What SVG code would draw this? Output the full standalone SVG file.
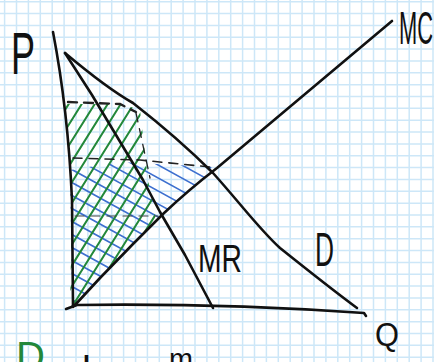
<svg xmlns="http://www.w3.org/2000/svg" width="434" height="362" viewBox="0 0 434 362">
<style>
.grid{stroke:#cde7f8;stroke-width:1.5;fill:none}
.ink{stroke:#111;stroke-width:2.6;fill:none;stroke-linecap:round;stroke-linejoin:round}
.dash{stroke:#222;stroke-width:1.6;fill:none;stroke-dasharray:9 7;stroke-linecap:round}
.green{stroke:#23883a;stroke-width:2;fill:none;stroke-linecap:round}
.blue{stroke:#3d6fcf;stroke-width:1.6;fill:none;stroke-linecap:round}
.lbl{font-family:"Liberation Sans",Arial,sans-serif;fill:#111}
</style>
<defs>
<clipPath id="cg"><polygon points="64,104 122,104 140,110 148,180 156,220 133,244 100,278 76,304 70,308 72,200 66,110"/></clipPath>
<clipPath id="cb"><polygon points="70,170 120,162 212,167 205,177 163,214 133,244 100,278 76,304 72,300"/></clipPath>
</defs>
<rect width="434" height="362" fill="#ffffff"/>
<g id="grid" class="grid">
<path d="M4.6 0V362M16.5 0V362M28.4 0V362M40.3 0V362M52.2 0V362M64.1 0V362M76 0V362M87.9 0V362M99.8 0V362M111.7 0V362M123.6 0V362M135.5 0V362M147.4 0V362M159.3 0V362M171.2 0V362M183.1 0V362M195 0V362M206.9 0V362M218.8 0V362M230.7 0V362M242.6 0V362M254.5 0V362M266.4 0V362M278.3 0V362M290.2 0V362M302.1 0V362M314 0V362M325.9 0V362M337.8 0V362M349.7 0V362M361.6 0V362M373.5 0V362M385.4 0V362M397.3 0V362M409.2 0V362M421.1 0V362M433 0V362"/>
<path d="M0 1.7H434M0 13.55H434M0 25.4H434M0 37.25H434M0 49.1H434M0 60.95H434M0 72.8H434M0 84.65H434M0 96.5H434M0 108.35H434M0 120.2H434M0 132.05H434M0 143.9H434M0 155.75H434M0 167.6H434M0 179.45H434M0 191.3H434M0 203.15H434M0 215H434M0 226.85H434M0 238.7H434M0 250.55H434M0 262.4H434M0 274.25H434M0 286.1H434M0 297.95H434M0 309.8H434M0 321.65H434M0 333.5H434M0 345.35H434M0 357.2H434"/>
</g>
<g id="hatch-blue" class="blue" clip-path="url(#cb)">
<path d="M60 85L220 173M60 98L220 186M60 111L220 199M60 124L220 212M60 137L220 225M60 150L220 238M60 163L220 251M60 176L220 264M60 189L220 277M60 202L220 290M60 215L220 303M60 228L220 316M60 241L220 329M60 254L220 342M60 267L220 355M60 280L220 368M60 293L220 381"/>
</g>
<g id="hatch-green" class="green" clip-path="url(#cg)">
<path d="M-60 310L71.25 100M-47 310L84.25 100M-34 310L97.25 100M-21 310L110.25 100M-8 310L123.25 100M5 310L136.25 100M18 310L149.25 100M31 310L162.25 100M44 310L175.25 100M57 310L188.25 100M70 310L201.25 100M83 310L214.25 100M96 310L227.25 100"/>
</g>
<g id="connectors">
<path id="dash-top" class="dash" style="stroke-width:2.4" d="M68 102L120 104L136 112"/>
<path id="dash-vert" class="dash" style="stroke-width:1.3" d="M136 113L150 178"/>
<path id="dash-mid" class="dash" d="M73 158L140 160L210 167"/>
<path id="dash-low" class="dash" style="stroke-width:1.2;stroke:#444" d="M75 216L158 216"/>
<path id="p-axis" class="ink" d="M53 32Q68 110 72 200L73 307"/>
<path id="q-axis" class="ink" d="M66 309L77 305Q220 303 364 313L366 316"/>
<path id="demand" class="ink" d="M65 53C90 74 110 90 133 103C165 128 190 150 213 173C240 203 260 230 280 248C300 264 330 288 357 308"/>
<path id="mr" class="ink" d="M65 53L92 95L143 180L160 212L185 255L213 308"/>
<path id="mc" class="ink" d="M75 305L100 278L133 244L163 214C180 198 200 181 217 168L392 21"/>
</g>
<g id="label-p"><text class="lbl" x="11" y="74" font-size="60" textLength="24" lengthAdjust="spacingAndGlyphs">P</text></g>
<g id="label-mc"><text class="lbl" x="399" y="44" font-size="46" textLength="34" lengthAdjust="spacingAndGlyphs">MC</text></g>
<g id="label-mr"><text class="lbl" x="198" y="272" font-size="38" textLength="44" lengthAdjust="spacingAndGlyphs">MR</text></g>
<g id="label-d"><text class="lbl" x="315" y="266" font-size="48" textLength="19" lengthAdjust="spacingAndGlyphs">D</text></g>
<g id="label-q"><text class="lbl" x="375" y="346" font-size="34" textLength="24" lengthAdjust="spacingAndGlyphs">Q</text></g>
<g id="note">
<text class="lbl" x="16" y="370" font-size="40" style="fill:#23883a">D</text>
<text class="lbl" x="82" y="385" font-size="40">l</text>
<text class="lbl" x="169" y="369" font-size="30" textLength="24" lengthAdjust="spacingAndGlyphs">m</text>
</g>
</svg>
